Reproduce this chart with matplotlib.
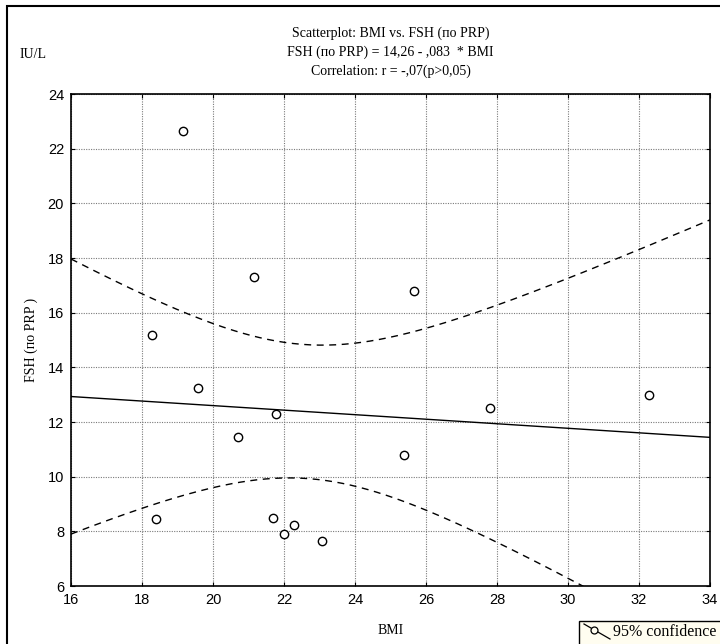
import numpy as np
import matplotlib
matplotlib.use("Agg")
import matplotlib.pyplot as plt
from matplotlib.patches import Rectangle
from matplotlib.lines import Line2D

# BMI and FSH observations
bmi = [18.27, 18.39, 19.16, 19.58, 20.70, 21.16, 21.68, 21.77, 21.99, 22.29,
       23.07, 25.37, 25.67, 27.80, 32.29]
fsh = [15.20, 8.45, 22.65, 13.25, 11.45, 17.30, 8.48, 12.30, 7.92, 8.23,
       7.63, 10.80, 16.80, 12.50, 13.00]

# Regression coefficients: FSH = a + b * BMI
intercept = 14.26
slope = -0.083

x_ticks = [16, 18, 20, 22, 24, 26, 28, 30, 32, 34]
y_ticks = [6, 8, 10, 12, 14, 16, 18, 20, 22, 24]

serif = "Liberation Serif"
sans = "Liberation Sans"

fig = plt.figure(figsize=(7.2, 6.44), dpi=100)
ax = fig.add_axes([71 / 720, 1 - 586 / 644, 639 / 720, 492 / 644])

x = np.asarray(bmi)
y = np.asarray(fsh)
n = len(x)

# Fitted line and 95% confidence band for the mean
xs = np.linspace(x_ticks[0], x_ticks[-1], 300)
yfit = intercept + slope * xs
resid = y - (intercept + slope * x)
s = np.sqrt(np.sum(resid ** 2) / (n - 2))
sxx = np.sum((x - x.mean()) ** 2)
t_crit = 2.160  # t(0.975, 13)
half = t_crit * s * np.sqrt(1 / n + (xs - x.mean()) ** 2 / sxx)

ax.plot(xs, yfit, color="black", lw=1.0, zorder=3)
ax.plot(xs, yfit + half, color="black", lw=1.0, ls=(0, (5, 4)), zorder=3)
ax.plot(xs, yfit - half, color="black", lw=1.0, ls=(0, (5, 4)), zorder=3)
ax.plot(x, y, ls="none", marker="o", markersize=6, markerfacecolor="white",
        markeredgecolor="black", markeredgewidth=1.0, zorder=4)

ax.set_xlim(x_ticks[0], x_ticks[-1])
ax.set_ylim(y_ticks[0], y_ticks[-1])
ax.set_xticks(x_ticks)
ax.set_yticks(y_ticks)
ax.set_xticklabels([str(v) for v in x_ticks], fontfamily=sans, fontsize=10.5)
ax.set_yticklabels([str(v) for v in y_ticks], fontfamily=sans, fontsize=10.5)
ax.tick_params(direction="in", length=3, width=0.8, top=True, right=True,
               pad=5)
ax.grid(True, color="#7a7a7a", ls=(0, (1, 1.2)), lw=0.8)
for sp in ax.spines.values():
    sp.set_linewidth(1.2)

ax.set_xlabel("BMI", fontfamily=serif, fontsize=10, labelpad=12)
ax.set_ylabel("FSH (по PRP )", fontfamily=serif, fontsize=10, labelpad=7)

cx = (71 + 710) / 2 / 720
fig.text(cx, 1 - 33 / 644, "Scatterplot: BMI vs. FSH (по PRP)", ha="center",
         va="center", fontfamily=serif, fontsize=10)
fig.text(cx, 1 - 52 / 644, "FSH (по PRP) = 14,26 - ,083  * BMI", ha="center",
         va="center", fontfamily=serif, fontsize=10)
fig.text(cx, 1 - 71 / 644, "Correlation: r = -,07(p>0,05)", ha="center",
         va="center", fontfamily=serif, fontsize=10)
fig.text(20 / 720, 1 - 54 / 644, "IU/L", ha="left", va="center",
         fontfamily=serif, fontsize=10)

# Outer frame
fig.patches.append(Rectangle((7 / 720, -0.2), 1.2, 1.2 - 6 / 644,
                             transform=fig.transFigure, fill=False,
                             edgecolor="black", lw=1.5))

# Legend box
fig.patches.append(Rectangle((579 / 720, -0.1), 0.3, 0.1 + (644 - 621) / 644,
                             transform=fig.transFigure, facecolor="#FFFDF0",
                             edgecolor="black", lw=1.0, zorder=5))
lx0, ly0 = 584 / 720, 1 - 624 / 644
lx1, ly1 = 610 / 720, 1 - 639 / 644
fig.add_artist(Line2D([lx0, lx1], [ly0, ly1], transform=fig.transFigure,
                      color="black", lw=0.9, zorder=6))
fig.add_artist(Line2D([594 / 720], [1 - 630 / 644],
                      transform=fig.transFigure, marker="o", markersize=5,
                      markerfacecolor="#FFFDF0", markeredgecolor="black",
                      markeredgewidth=0.9, zorder=7))
fig.text(613 / 720, 1 - 632 / 644, "95% confidence", ha="left", va="center",
         fontfamily=serif, fontsize=11.5, zorder=7)

fig.savefig("out.png", dpi=100)
